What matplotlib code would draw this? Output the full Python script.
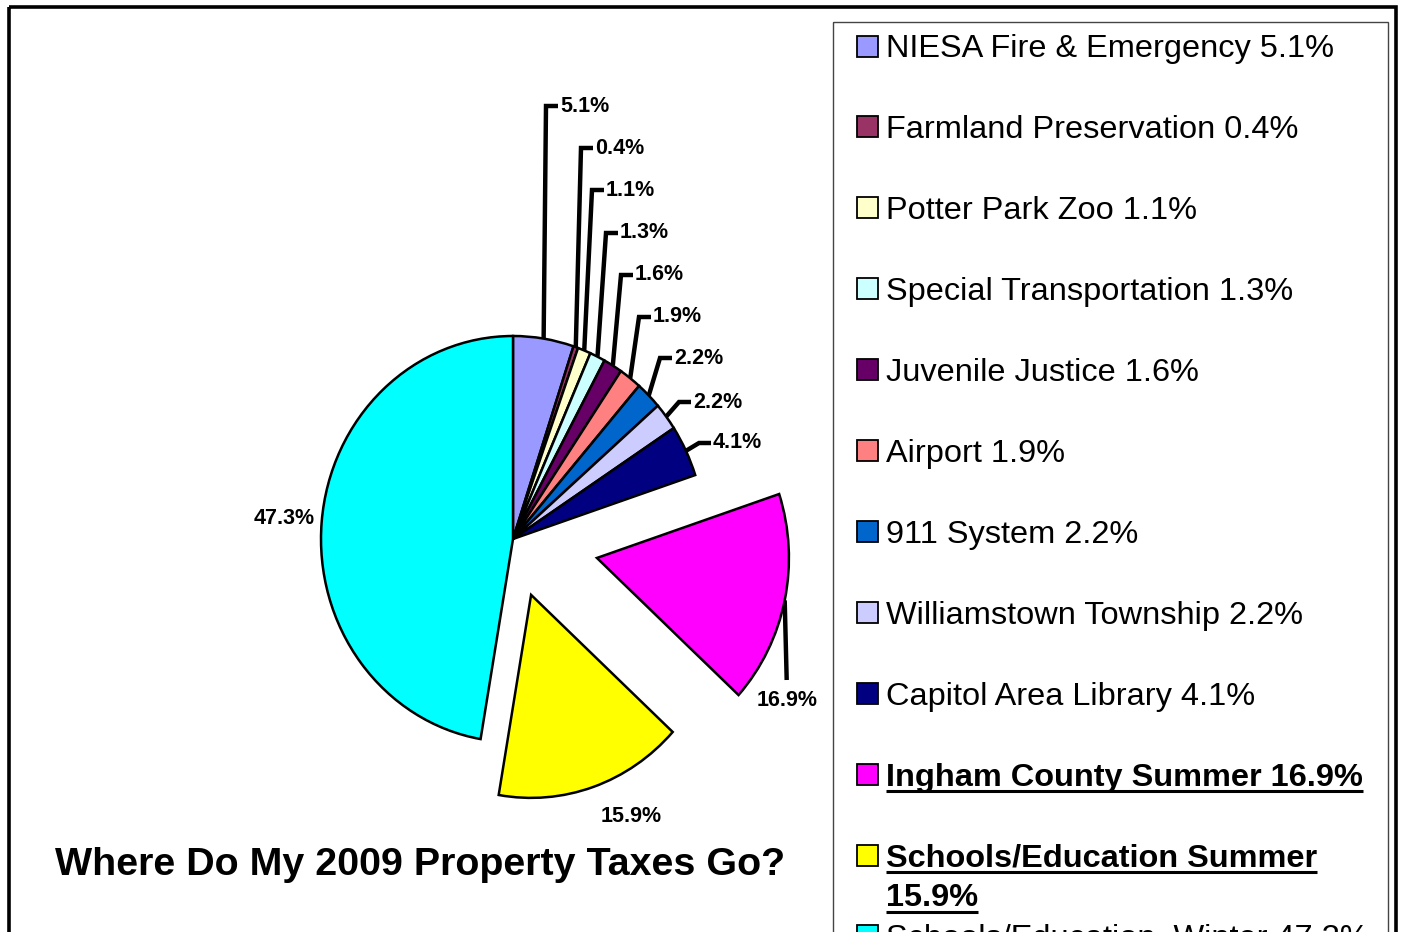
import numpy as np
import matplotlib
matplotlib.use("Agg")
import matplotlib.pyplot as plt
from matplotlib.patches import Rectangle

plt.rcParams['font.family'] = ['Liberation Sans', 'DejaVu Sans']

# Data
categories = ["NIESA Fire & Emergency", "Farmland Preservation", "Potter Park Zoo",
              "Special Transportation", "Juvenile Justice", "Airport", "911 System",
              "Williamstown Township", "Capitol Area Library", "Ingham County Summer",
              "Schools/Education Summer", "Schools/Education  Winter"]
shares = [5.1, 0.4, 1.1, 1.3, 1.6, 1.9, 2.2, 2.2, 4.1, 16.9, 15.9, 47.3]
colors = ["#9999FF", "#993366", "#FFFFCC", "#CCFFFF", "#660066", "#FF8080",
          "#0066CC", "#CCCCFF", "#000080", "#FF00FF", "#FFFF00", "#00FFFF"]
explode = [0, 0, 0, 0, 0, 0, 0, 0, 0, 0.447, 0.291, 0]
highlight = [False] * 9 + [True, True, False]

W, H = 1405, 932
fig = plt.figure(figsize=(W / 100, H / 100), dpi=100)

# overlay axes in pixel units (y down)
ov = fig.add_axes([0, 0, 1, 1])
ov.set_xlim(0, W)
ov.set_ylim(H, 0)
ov.axis('off')

# pie axes, slightly taller than wide like the original
CX, CY, RX, RY = 513, 539, 192, 203
L = 1.6
pie_ax = fig.add_axes([(CX - L * RX) / W, 1 - (CY + L * RY) / H, 2 * L * RX / W, 2 * L * RY / H])
wedges, _ = pie_ax.pie(shares, colors=colors, explode=explode, startangle=90,
                       counterclock=False,
                       wedgeprops=dict(edgecolor='black', linewidth=1.8))
pie_ax.set_aspect('auto')
pie_ax.set_xlim(-L, L)
pie_ax.set_ylim(-L, L)
pie_ax.axis('off')


def to_px(x, y):
    return ov.transData.inverted().transform(pie_ax.transData.transform((x, y)))


def arc_mid(w):
    th = np.deg2rad((w.theta1 + w.theta2) / 2)
    cx, cy = w.center
    return to_px(cx + w.r * np.cos(th), cy + w.r * np.sin(th))


# percentage labels
label_font = dict(fontsize=15.5, fontweight='bold', color='black')
small_label_pos = [(560, 106), (595, 148), (606, 190), (620, 233), (635, 275),
                   (653, 317), (674, 358), (693, 402), (713, 443)]
for w, v, (tx, ty) in zip(wedges[:9], shares[:9], small_label_pos):
    ax0, ay0 = arc_mid(w)
    ov.plot([ax0, tx - 14, tx - 2], [ay0, ty, ty], color='black', lw=3.2,
            solid_joinstyle='miter', solid_capstyle='butt')
    ov.text(tx, ty, f"{v:.1f}%", ha='left', va='center', **label_font)

# Ingham County Summer label with a short leader
ax0, ay0 = arc_mid(wedges[9])
ov.plot([ax0, ax0 + 2], [ay0, 680], color='black', lw=3.2, solid_capstyle='butt')
ov.text(787, 701, f"{shares[9]:.1f}%", ha='center', va='center', **label_font)
ov.text(631, 816, f"{shares[10]:.1f}%", ha='center', va='center', **label_font)
ov.text(284, 519, f"{shares[11]:.1f}%", ha='center', va='center', **label_font)

# title
ov.text(55, 875, "Where Do My 2009 Property Taxes Go?", fontsize=28.4,
        fontweight='bold', ha='left', va='baseline')

# outer frame and legend box
ov.add_patch(Rectangle((8.5, 7), 1387, 1000, fill=False, ec='black', lw=2.6))
ov.add_patch(Rectangle((833, 22), 555, 1000, fill=False, ec='#444444', lw=1.0))

# legend
fig.canvas.draw()
renderer = fig.canvas.get_renderer()
for i, (cat, v, c, hl) in enumerate(zip(categories, shares, colors, highlight)):
    yc = 46 + 80.9 * i
    ov.add_patch(Rectangle((857, yc - 10.5), 21, 21, fc=c, ec='black', lw=1.3))
    lines = [f"{cat} {v:.1f}%"]
    if cat == "Schools/Education Summer":
        lines = [cat, f"{v:.1f}%"]
    for j, line in enumerate(lines):
        base = yc + 11.5 + 40 * j
        t = ov.text(886, base, line, fontsize=23.4, ha='left', va='baseline',
                    fontweight='bold' if hl else 'normal')
        if hl:
            bb = t.get_window_extent(renderer)
            ov.plot([886, bb.x1], [base + 5.5, base + 5.5], color='black', lw=2.2,
                    solid_capstyle='butt')

fig.savefig("out.png", dpi=100)
